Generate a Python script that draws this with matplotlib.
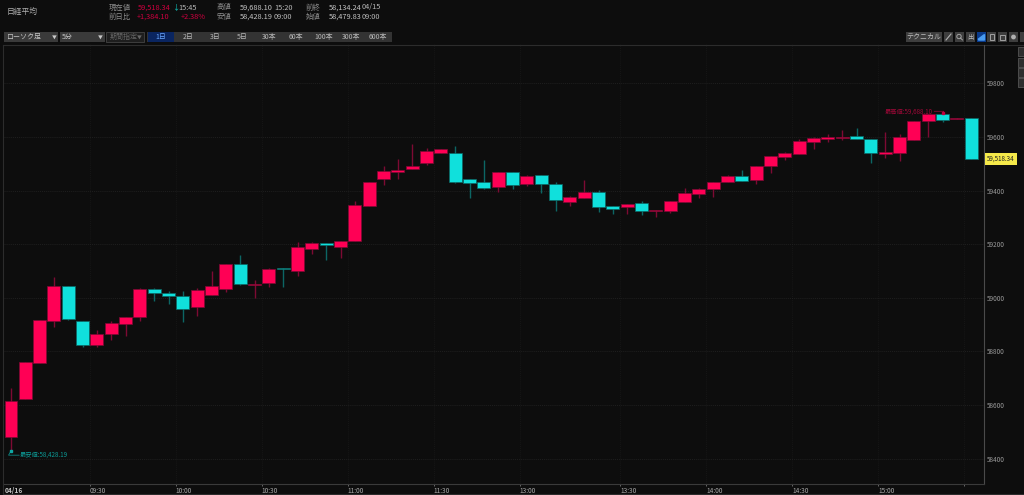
import matplotlib
matplotlib.use('Agg')
import matplotlib.pyplot as plt
from matplotlib.patches import Rectangle, Circle

plt.rcParams['font.family'] = ['Noto Sans CJK JP', 'DejaVu Sans']

# 5 minute candles
opens = [58480, 58624, 58758, 58913, 59043, 58913, 58824, 58864, 58902, 58930,
         59032, 59018, 59008, 58966, 59010, 59033, 59125, 59047, 59054, 59112,
         59100, 59183, 59205, 59191, 59212, 59341, 59444, 59469, 59479, 59502,
         59540, 59541, 59444, 59431, 59415, 59468, 59424, 59457, 59426, 59357,
         59371, 59395, 59344, 59338, 59353, 59324, 59325, 59357, 59388, 59405,
         59431, 59456, 59441, 59493, 59527, 59537, 59581, 59593, 59596, 59603,
         59591, 59537, 59541, 59590, 59659, 59684, 59668, 59672]
closes = [58616, 58759, 58917, 59043, 58922, 58824, 58865, 58905, 58928, 59033,
          59019, 59008, 58959, 59030, 59043, 59126, 59053, 59051, 59106, 59106,
          59191, 59205, 59197, 59213, 59345, 59432, 59473, 59476, 59492, 59547,
          59554, 59432, 59427, 59411, 59468, 59422, 59454, 59425, 59364, 59375,
          59395, 59338, 59332, 59349, 59325, 59329, 59360, 59391, 59406, 59432,
          59456, 59436, 59491, 59530, 59541, 59585, 59596, 59600, 59600, 59593,
          59539, 59544, 59599, 59659, 59685, 59663, 59672, 59518.34]
highs = [58662, 58759, 58917, 59079, 59043, 58913, 58880, 58915, 58930, 59035,
         59035, 59027, 59024, 59037, 59100, 59126, 59160, 59066, 59112, 59112,
         59207, 59208, 59205, 59213, 59361, 59432, 59493, 59518, 59573, 59559,
         59555, 59568, 59444, 59513, 59470, 59468, 59458, 59457, 59433, 59380,
         59440, 59402, 59344, 59349, 59361, 59329, 59360, 59409, 59410, 59432,
         59458, 59477, 59493, 59530, 59545, 59594, 59601, 59611, 59625, 59634,
         59593, 59618, 59611, 59660, 59686, 59688.10, 59672, 59672]
lows = [58428.19, 58624, 58758, 58892, 58917, 58815, 58815, 58843, 58859, 58913,
        58989, 58977, 58909, 58932, 59010, 59022, 59048, 58998, 59041, 59041,
        59083, 59165, 59141, 59149, 59212, 59341, 59422, 59444, 59479, 59497,
        59540, 59429, 59374, 59405, 59396, 59407, 59416, 59390, 59323, 59343,
        59371, 59321, 59314, 59313, 59310, 59302, 59318, 59357, 59374, 59376,
        59431, 59436, 59425, 59467, 59514, 59537, 59554, 59582, 59588, 59593,
        59502, 59523, 59512, 59590, 59601, 59656, 59668, 59518]

price_ticks = [58400, 58600, 58800, 59000, 59200, 59400, 59600, 59800]
time_pos = [5.5, 11.5, 17.5, 23.5, 29.5, 35.5, 42.5, 48.5, 54.5, 60.5, 66.5]
time_labels = ['09:30', '10:00', '10:30', '11:00', '11:30', '13:00', '13:30', '14:00', '14:30', '15:00', '']

row1 = [('現在値', 109, '#8c8c8c'), ('59,518.34', 138, '#d0003f'), ('↓', 172, '#10c8c0'), ('15:45', 178, '#b8b8b8'),
        ('高値', 217, '#8c8c8c'), ('59,688.10', 240, '#c4c4c4'), ('15:20', 274, '#b8b8b8'),
        ('前終', 306, '#8c8c8c'), ('58,134.24', 329, '#c4c4c4'), ('04/15', 362, '#b8b8b8')]
row2 = [('前日比', 109, '#8c8c8c'), ('+1,384.10', 137, '#d0003f'), ('+2.38%', 181, '#d0003f'),
        ('安値', 217, '#8c8c8c'), ('58,428.19', 240, '#c4c4c4'), ('09:00', 274, '#b8b8b8'),
        ('始値', 306, '#8c8c8c'), ('58,479.83', 329, '#c4c4c4'), ('09:00', 362, '#b8b8b8')]
period_labels = ['2日', '3日', '5日', '30本', '60本', '100本', '300本', '600本']
period_x = [188, 215, 242, 269, 296, 324, 351, 378]
icon_x = [944, 955, 966, 977, 987, 998, 1009, 1020]

BG = '#0d0d0d'
RED = '#ff0055'
RED_DIM = '#7d0a33'
CYAN = '#10e0dc'
CYAN_DIM = '#0c6664'

W, H = 1024, 495
fig = plt.figure(figsize=(W / 100, H / 100), dpi=100, facecolor=BG)

# chrome layer in pixels
ui = fig.add_axes([0, 0, 1, 1])
ui.set_xlim(0, W)
ui.set_ylim(H, 0)
ui.axis('off')

def box(x0, y0, x1, y1, fc, ec='none'):
    ui.add_patch(Rectangle((x0, y0), x1 - x0, y1 - y0, fc=fc, ec=ec, lw=0.6))

ui.text(7, 11.5, '日経平均', color='#b0b0b0', fontsize=5.6, va='center')
for txt, x, c in row1:
    ui.text(x, 9.5, txt, color=c, fontsize=5.3, va='baseline')
for txt, x, c in row2:
    ui.text(x, 19, txt, color=c, fontsize=5.3, va='baseline')

box(4, 32, 58, 42, '#3a3a3a')
ui.text(6, 37, 'ローソク足', color='#c8c8c8', fontsize=5, va='center')
ui.text(54, 37, '▼', color='#c8c8c8', fontsize=3.5, va='center', ha='center')
box(60, 32, 105, 42, '#3a3a3a')
ui.text(62, 37, '5分', color='#c8c8c8', fontsize=5, va='center')
ui.text(100, 37, '▼', color='#c8c8c8', fontsize=3.5, va='center', ha='center')
box(106, 32, 144, 42, '#1e1e1e', '#444444')
ui.text(110, 37, '期間指定', color='#666666', fontsize=5, va='center')
ui.text(139, 37, '▼', color='#666666', fontsize=3.5, va='center', ha='center')
box(147, 32, 392, 42, '#333333')
box(148, 32, 174, 42, '#0a2560')
ui.text(161, 37, '1日', color='#6aa8ff', fontsize=5, va='center', ha='center')
for txt, x in zip(period_labels, period_x):
    ui.text(x, 37, txt, color='#b8b8b8', fontsize=5, va='center', ha='center')

box(906, 32, 942, 42, '#3e3e3e')
ui.text(924, 37, 'テクニカル', color='#c0c0c0', fontsize=5, va='center', ha='center')
for x in icon_x:
    box(x, 32, min(x + 9, W), 42, '#0a3a8a' if x == 977 else '#3e3e3e')
# toolbar glyphs
ui.plot([946, 951], [40, 34], color='#b0b0b0', lw=0.8)
ui.add_patch(Circle((959, 36.5), 2.2, fc='none', ec='#b0b0b0', lw=0.6))
ui.plot([960.5, 962.5], [38, 40], color='#b0b0b0', lw=0.6)
ui.text(970.5, 37, '出', color='#b8b8b8', fontsize=4.6, va='center', ha='center')
ui.fill([978.5, 984.5, 984.5, 978.5], [39, 34.5, 40, 40], color='#4a9cf0')
box(989.5, 34, 994, 40, 'none', '#b0b0b0')
box(1000, 35, 1005, 40, 'none', '#b0b0b0')
ui.add_patch(Circle((1013.5, 37), 2.4, fc='#b0b0b0', ec='none'))
for y0 in [47, 58, 68, 78]:
    box(1018, y0, W, y0 + 9, '#2e2e2e', '#555555')

ui.plot([3, W], [44.5, 44.5], color='#2c2c2c', lw=0.8)
ui.plot([3, 3], [44.5, H], color='#2c2c2c', lw=0.8)
ui.plot([3, W], [494, 494], color='#2c2c2c', lw=0.8)
ui.text(5, 490, '04/16', color='#c4c4c4', fontsize=4.8, fontweight='bold', va='center', ha='left')

# chart area
x0, x1, y0, y1 = 3.5, 983.5, 44.5, 484
ax = fig.add_axes([x0 / W, 1 - y1 / H, (x1 - x0) / W, (y1 - y0) / H], facecolor='none')
ax.set_xlim(-0.52, 67.86)
ax.set_ylim(58305, 59945)

ax.set_yticks(price_ticks)
ax.yaxis.tick_right()
ax.tick_params(axis='y', length=0, pad=2.5, labelsize=4.6, labelcolor='#9a9a9a')
ax.set_xticks(time_pos)
ax.set_xticklabels(time_labels, ha='left')
ax.tick_params(axis='x', length=1.5, width=0.6, color='#777777', pad=0.6, labelsize=4.7, labelcolor='#a8a8a8')
ax.grid(True, axis='y', color='#252525', lw=0.5, ls=(0, (1.5, 1.5)))
ax.grid(True, axis='x', color='#191919', lw=0.5, ls=(0, (1.5, 1.5)))
ax.set_axisbelow(True)
for s in ['top', 'left']:
    ax.spines[s].set_visible(False)
ax.spines['right'].set_color('#4a4a4a')
ax.spines['right'].set_linewidth(0.8)
ax.spines['bottom'].set_color('#3a3a3a')
ax.spines['bottom'].set_linewidth(0.8)

for i in range(len(opens)):
    up = closes[i] >= opens[i]
    dim = RED_DIM if up else CYAN_DIM
    ax.vlines(i, lows[i], highs[i], color=dim, lw=1, zorder=2)
    bottom = min(opens[i], closes[i])
    height = abs(closes[i] - opens[i])
    ax.bar(i, height, 0.9, bottom=bottom, color=RED if up else CYAN, edgecolor=dim, lw=0.5, zorder=3)

# high / low callouts
ax.plot(65, highs[65], 's', ms=1.5, color='#c00040', zorder=4)
ax.annotate('最高値:59,688.10', xy=(65, highs[65]), xytext=(-6.8, 1.5), textcoords='offset points',
            color='#a00838', fontsize=4.5, ha='right', va='center')
ax.annotate('', xy=(65, highs[65]), xytext=(-6, 1.5), textcoords='offset points',
            arrowprops=dict(arrowstyle='-', color='#a00838', lw=0.5, shrinkA=0, shrinkB=0,
                            connectionstyle='angle,angleA=0,angleB=60,rad=0'))
ax.plot(0, lows[0], 's', ms=1.5, color='#10a8a4', zorder=4)
ax.annotate('最安値:58,428.19', xy=(0, lows[0]), xytext=(6.5, -3), textcoords='offset points',
            color='#0c9a96', fontsize=4.5, ha='left', va='center')
ax.annotate('', xy=(0, lows[0]), xytext=(6, -3), textcoords='offset points',
            arrowprops=dict(arrowstyle='-', color='#0c9a96', lw=0.5, shrinkA=0, shrinkB=0,
                            connectionstyle='angle,angleA=0,angleB=60,rad=0'))

# last price tag
ax.annotate('59,518.34', xy=(1, closes[-1]), xycoords=ax.get_yaxis_transform(), xytext=(2.5, 0),
            textcoords='offset points', color='#222222', fontsize=4.5, va='center', ha='left',
            bbox=dict(boxstyle='square,pad=0.35', fc='#f5e94a', ec='none'), annotation_clip=False)

fig.savefig('out.png', dpi=100, facecolor=BG)
